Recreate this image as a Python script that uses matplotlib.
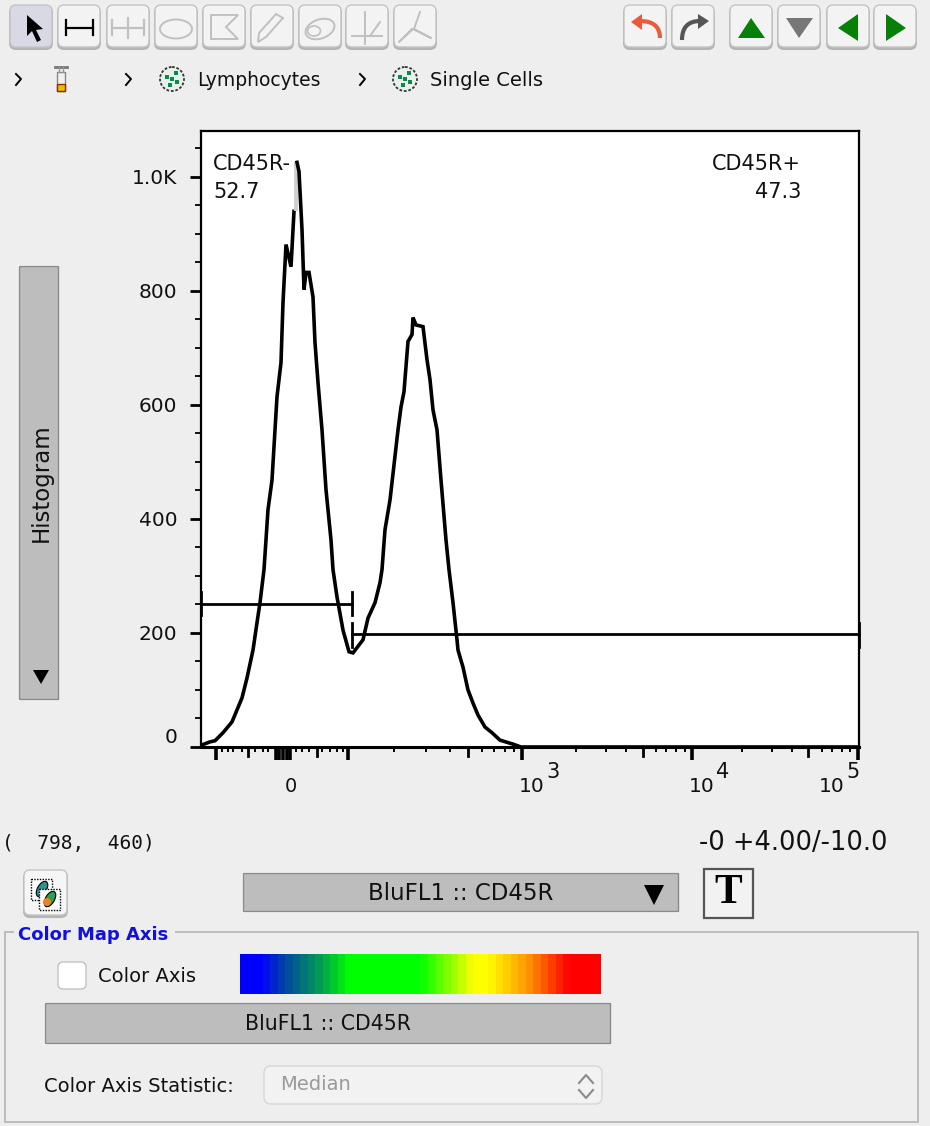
import matplotlib
matplotlib.use('Agg')
import numpy as np
import matplotlib.pyplot as plt
from matplotlib.patches import FancyBboxPatch, Rectangle, Polygon, Circle, Ellipse, PathPatch
from matplotlib.path import Path
from matplotlib.colors import LinearSegmentedColormap

W, H = 930, 1126
BG = '#eeeeee'
BTN = '#bdbdbd'

# histogram, x is the display channel of the biex axis
channel = [0, 9, 14, 22, 31, 41, 46, 52, 56, 59, 63, 67, 71, 74, 76, 80, 82, 85, 90, 93, 96,
           98, 101, 103, 105, 108, 112, 114, 117, 121, 125, 130, 132, 136, 142, 148, 152,
           162, 167, 174, 179, 181, 184, 189, 197, 200, 203, 207, 211, 212, 215, 222, 226,
           229, 232, 236, 240, 245, 248, 252, 256, 257, 262, 267, 272, 277, 284, 291, 299, 312, 320, 658]
counts = [3, 9, 11, 25, 44, 86, 121, 170, 218, 253, 311, 416, 468, 556, 614, 674, 779, 881,
          842, 939, 1025, 1009, 907, 802, 832, 832, 789, 709, 639, 556, 451, 363, 311, 263,
          205, 167, 165, 188, 226, 253, 288, 311, 381, 433, 556, 596, 623, 711, 723, 753,
          740, 737, 679, 644, 591, 556, 468, 363, 311, 253, 188, 170, 140, 100, 77, 56, 35, 25, 12, 5, 0, 0]
peak_start, peak_end = 19, 20

# gates
gate_neg = [0, 151, 251]
gate_pos = [151, 658, 198]

y_major = [0, 200, 400, 600, 800, 1000]
y_labels = ['0', '200', '400', '600', '800', '1.0K']
y_minor = [50, 100, 150, 250, 300, 350, 450, 500, 550, 650, 700, 750, 850, 900, 950, 1050]

x_long = [15, 75, 78, 82, 86, 89, 147, 321, 491, 657]
x_medium = [47, 116, 267, 442, 607]
x_short = [21, 27, 32, 41, 54, 62, 67, 95, 101, 108, 121, 129, 136, 142, 193, 225, 249,
           281, 293, 304, 313, 375, 405, 425, 455, 465, 475, 484, 541, 571, 591,
           621, 631, 641, 649]

colorbar_stops = [0.0, 0.05, 0.12, 0.22, 0.30, 0.50, 0.65, 0.69, 0.80, 0.92, 1.0]
colorbar_colors = ['#0000ff', '#0000ff', '#004aa0', '#00a050', '#00ff00', '#00ff00',
                   '#ffff00', '#ffff00', '#ff9900', '#ff0000', '#ff0000']

plt.rcParams['font.family'] = ['DejaVu Sans']
fig = plt.figure(figsize=(W / 100, H / 100), dpi=100, facecolor=BG)

# whole window in pixel coordinates for the widgets
ui = fig.add_axes([0, 0, 1, 1])
ui.set_xlim(0, W)
ui.set_ylim(H, 0)
ui.axis('off')


def button(x, y, w, h, face='#f5f5f5', edge='#c4c4c4'):
    ui.add_patch(FancyBboxPatch((x, y + 1), w, h, boxstyle='round,pad=0,rounding_size=7',
                                fc='#b4b4b4', ec='none'))
    ui.add_patch(FancyBboxPatch((x + 1, y), w - 2, h - 2, boxstyle='round,pad=0,rounding_size=6',
                                fc=face, ec=edge, lw=1))


def flat_button(x, y, w, h, text, size=14):
    ui.add_patch(Rectangle((x, y), w, h, fc='#fbfbfb', ec='none'))
    ui.add_patch(Rectangle((x + 1, y + 1), w - 2, h - 3, fc=BTN, ec='#8a8a8a', lw=1))
    if text:
        ui.text(x + w / 2, y + h / 2 + 1, text, ha='center', va='center', fontsize=size, color='#111111')


def label(x, y, s, ha='left', size=14, **kw):
    kw.setdefault('color', '#111111')
    return ui.text(x, y, s, ha=ha, va='center', fontsize=size, **kw)


def cell_icon(cx, cy):
    ui.add_patch(Circle((cx, cy), 12, fc='#e8f0ec', ec='#333333', lw=1.3, ls=(0, (1.5, 1))))
    for dx, dy in [(-5, -2), (4, -6), (5, 3), (-2, 6), (0, 0)]:
        ui.add_patch(Rectangle((cx + dx - 2, cy + dy - 2), 4, 4, fc='#0a8a4a', ec='none'))


def bent_arrow(x0, y0, xc, yc, x1, y1, color):
    ui.add_patch(PathPatch(Path([(x0, y0), (xc, yc), (x1, y1)], [Path.MOVETO, Path.CURVE3, Path.CURVE3]),
                           fc='none', ec=color, lw=3))


# toolbar
for x in [9, 57, 106, 154, 202, 250, 298, 345, 393, 623, 671, 729, 777, 826, 873]:
    button(x, 5, 44, 44, face='#d9d9e6' if x == 9 else '#f3f3f3')
grey = '#c0c0c0'
ui.add_patch(Polygon([(27, 15), (27, 36), (32, 31), (37, 42), (41, 40), (36, 30), (43, 29)], fc='black', ec='none'))
ui.plot([66, 93], [28, 28], color='black', lw=1.6)
ui.plot([66, 66], [20, 35], color='black', lw=1.6)
ui.plot([93, 93], [20, 35], color='black', lw=1.6)
ui.plot([112, 144], [28, 28], color=grey, lw=1.6)
ui.plot([112, 112], [20, 35], color=grey, lw=1.6)
ui.plot([144, 144], [20, 35], color=grey, lw=1.6)
ui.plot([128, 128], [18, 38], color=grey, lw=1.6)
ui.add_patch(Ellipse((176, 29), 32, 19, fc='none', ec=grey, lw=1.4))
ui.add_patch(Polygon([(211, 15), (238, 15), (226, 27), (238, 39), (211, 39)], fc='none', ec=grey, lw=1.4))
ui.add_patch(Polygon([(258, 42), (259, 33), (276, 14), (283, 18), (266, 37)], fc='none', ec=grey, lw=1.4))
ui.add_patch(Ellipse((320, 29), 30, 19, angle=-20, fc='none', ec=grey, lw=1.4))
ui.add_patch(Ellipse((314, 31), 13, 10, fc='none', ec=grey, lw=1.2))
ui.plot([352, 382], [36, 36], color=grey, lw=1.4)
ui.plot([365, 365], [12, 44], color=grey, lw=1.4)
ui.plot([370, 380], [36, 22], color=grey, lw=1.4)
ui.plot([412, 399, 413, 431, 414, 420], [29, 42, 29, 38, 29, 12], color=grey, lw=1.4)

bent_arrow(660, 38, 660, 21, 640, 21, '#ec5a3c')
ui.add_patch(Polygon([(631, 22), (642, 14), (642, 30)], fc='#ec5a3c', ec='none'))
bent_arrow(682, 40, 682, 21, 700, 21, '#555555')
ui.add_patch(Polygon([(709, 21), (698, 14), (698, 29)], fc='#555555', ec='none'))
ui.add_patch(Polygon([(751, 18), (738, 38), (765, 38)], fc='#078007', ec='none'))
ui.add_patch(Polygon([(799, 38), (786, 18), (813, 18)], fc='#777777', ec='none'))
ui.add_patch(Polygon([(838, 28), (858, 14), (858, 41)], fc='#078007', ec='none'))
ui.add_patch(Polygon([(906, 28), (886, 14), (886, 41)], fc='#078007', ec='none'))

# breadcrumb
for x in [19, 129, 363]:
    ui.plot([x - 3, x + 2, x - 3], [74, 79, 85], color='black', lw=1.4)
ui.add_patch(Rectangle((57, 72), 8, 19, fc='#f6f0ec', ec='#888888', lw=1))
ui.add_patch(Rectangle((57, 84), 8, 7, fc='#e8c000', ec='#8a3000', lw=1))
ui.plot([55, 67], [67, 67], color='#777777', lw=2)
ui.plot([59, 59], [67, 72], color='#999999', lw=1)
ui.plot([63, 63], [67, 72], color='#999999', lw=1)
cell_icon(172, 79)
cell_icon(405, 79)
label(197, 80, 'Lymphocytes', size=13.5)
label(430, 80, 'Single Cells')

# side button
flat_button(18, 265, 41, 436, '')
label(41, 483, 'Histogram', ha='center', rotation=90, size=16.5)
ui.add_patch(Polygon([(41, 684), (33, 670), (49, 670)], fc='black', ec='none'))

# x axis labels
label(291, 787, '0', ha='center', size=14)
for x10, sup, xs in [(532, '3', 553), (702, '4', 723), (832, '5', 853)]:
    label(x10, 787, '10', ha='center', size=14.5)
    label(xs, 772, sup, ha='center', size=15)

# status line
label(2, 843, '(  798,  460)', family='DejaVu Sans Mono', size=14)
label(887, 843, '-0 +4.00/-10.0', ha='right', size=18.5)

# axis selection row
button(23, 870, 45, 47, face='#f6f6f6')
for x0, y0, col in [(31, 879, '#2f8f8f'), (39, 889, '#2f9f4f')]:
    ui.add_patch(Rectangle((x0, y0), 21, 21, fc='white', ec='black', lw=1, ls=(0, (1, 1))))
    ui.add_patch(Ellipse((x0 + 11, y0 + 10), 9, 17, angle=30, fc=col, ec='black', lw=0.8))
ui.add_patch(Circle((47, 902), 4, fc='#f08020', ec='none'))
flat_button(242, 872, 437, 41, 'BluFL1 :: CD45R', size=16.5)
ui.add_patch(Polygon([(654, 905), (644, 885), (664, 885)], fc='black', ec='none'))
ui.add_patch(Rectangle((703.5, 869), 49, 49, fc='#f2f2f2', ec='#555555', lw=1.6))
ui.text(728, 893, 'T', ha='center', va='center', fontsize=30, family='Liberation Serif', weight='bold', color='black')

# colour map group
ui.add_patch(Rectangle((5, 932), 913, 190, fc='none', ec='#bcbcbc', lw=1.4))
ui.add_patch(Rectangle((14, 926), 161, 12, fc=BG, ec='none'))
label(18, 935, 'Color Map Axis', color='#1111dd', size=13, weight='bold')
ui.add_patch(FancyBboxPatch((58, 962), 28, 27, boxstyle='round,pad=0,rounding_size=5', fc='white', ec='#c2c2c2', lw=1))
label(98, 977, 'Color Axis')
cmap = LinearSegmentedColormap.from_list('flow', list(zip(colorbar_stops, colorbar_colors)), N=48)
ui.imshow(np.linspace(0, 1, 48)[None, :], extent=(240, 600, 994, 954), aspect='auto', cmap=cmap, interpolation='nearest')
ui.set_xlim(0, W)
ui.set_ylim(H, 0)
flat_button(44, 1002, 567, 43, 'BluFL1 :: CD45R', size=14.8)
label(44, 1087, 'Color Axis Statistic:')
ui.add_patch(FancyBboxPatch((264, 1066), 338, 38, boxstyle='round,pad=0,rounding_size=7', fc='#f2f2f2', ec='#d6d6d6', lw=1))
label(280, 1085, 'Median', color='#9a9a9a')
ui.plot([579, 586, 593], [1083, 1075, 1083], color='#8a8a8a', lw=1.5)
ui.plot([579, 586, 593], [1090, 1098, 1090], color='#8a8a8a', lw=1.5)

# histogram axes
ax = fig.add_axes([201 / W, 1 - 747 / H, 658 / W, 616 / H], facecolor='white')
ax.plot(channel[:peak_start + 1], counts[:peak_start + 1], color='black', lw=2.6, solid_joinstyle='miter')
ax.plot([channel[peak_start] + 2] * 2, counts[peak_start:peak_end + 1], color='#cfcfcf', lw=2.8, solid_capstyle='butt')
ax.plot(channel[peak_end:], counts[peak_end:], color='black', lw=2.6, solid_joinstyle='miter')

ax.plot(gate_neg[:2], [gate_neg[2]] * 2, color='black', lw=2, clip_on=False)
ax.plot(gate_pos[:2], [gate_pos[2]] * 2, color='black', lw=2, clip_on=False)
for x_end in gate_neg[:2]:
    ax.plot([x_end, x_end], [gate_neg[2] - 20, gate_neg[2] + 20], color='black', lw=2, clip_on=False)
for x_end in gate_pos[:2]:
    ax.plot([x_end, x_end], [gate_pos[2] - 22, gate_pos[2] + 20], color='black', lw=2, clip_on=False)

ax.set_xlim(0, 658)
ax.set_ylim(0, 1080)
ax.set_yticks(y_major, y_labels, fontsize=14.5)
ax.set_yticks(y_minor, minor=True)
ax.tick_params(axis='y', which='major', length=8, width=2, pad=9, labelcolor='#111111')
ax.tick_params(axis='y', which='minor', length=4, width=1.3)
ax.get_yticklabels()[0].set_verticalalignment('bottom')
ax.set_xticks(x_long, [''] * len(x_long))
ax.set_xticks(x_short, minor=True)
ax.tick_params(axis='x', which='major', length=9, width=2.6)
ax.tick_params(axis='x', which='minor', length=3.5, width=1.4)
for x_m in x_medium:
    ax.plot([x_m, x_m], [0, -16], color='black', lw=2, clip_on=False)
for spine in ax.spines.values():
    spine.set_linewidth(1.6)
ax.spines['bottom'].set_linewidth(2.2)

ax.text(12, 1022, 'CD45R-', fontsize=15, va='center', color='#111111')
ax.text(12, 973, '52.7', fontsize=15, va='center', color='#111111')
ax.text(600, 1022, 'CD45R+', fontsize=15, va='center', ha='right', color='#111111')
ax.text(600, 973, '47.3', fontsize=15, va='center', ha='right', color='#111111')

fig.savefig('out.png', dpi=100, facecolor=BG)
